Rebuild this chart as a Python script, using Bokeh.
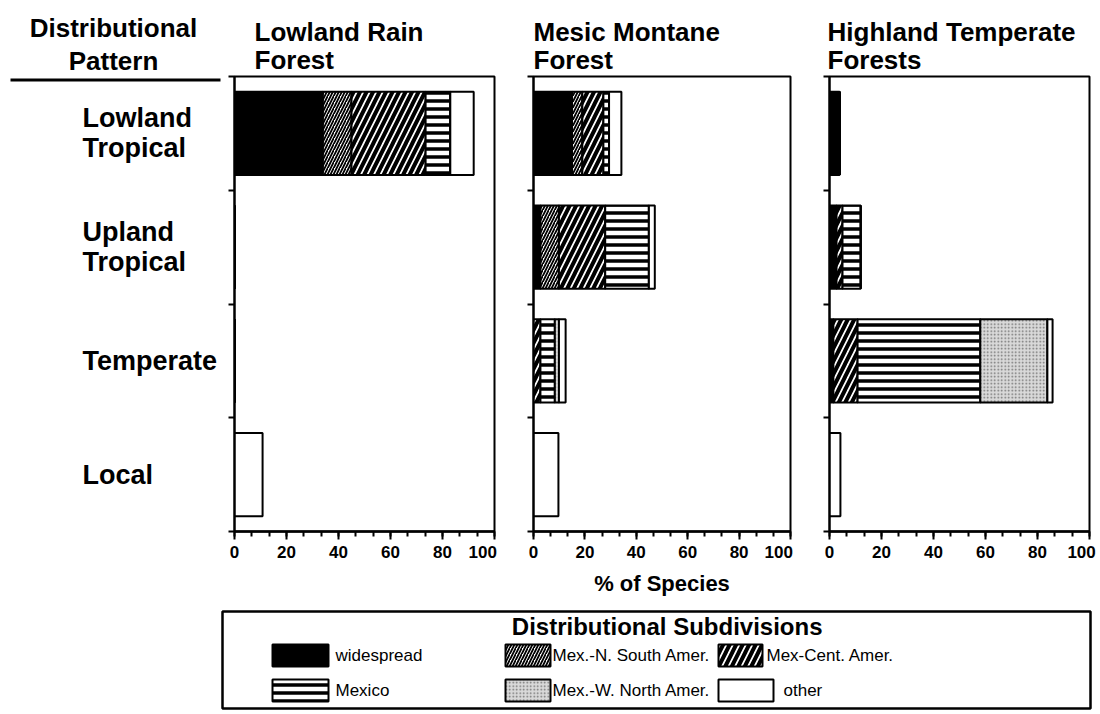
from bokeh.plotting import figure
from bokeh.layouts import row, column
from bokeh.models import Range1d, FixedTicker, ColumnDataSource, Title
from bokeh.core.properties import value
from bokeh.embed import file_html
from bokeh.resources import INLINE

# ---------------- data ----------------
categories = ["Lowland Tropical", "Upland Tropical", "Temperate", "Local"]
category_labels = ["Lowland\nTropical", "Upland\nTropical", "Temperate", "Local"]
subdivisions = ["widespread", "Mex.-N. South Amer.", "Mex-Cent. Amer.",
                "Mexico", "Mex.-W. North Amer.", "other"]
panel_titles = ["Lowland  Rain\nForest", "Mesic  Montane\nForest",
                "Highland  Temperate\nForests"]
header_lines = ["Distributional", "Pattern"]
x_tick_values = [0, 20, 40, 60, 80, 100]

# % of species (rows follow `categories`)
lrf_widespread = [34.0, 0.0, 0.0, 0.0]
lrf_mex_nsa = [11.0, 0.0, 0.0, 0.0]
lrf_mex_ca = [28.5, 0.0, 0.0, 0.0]
lrf_mexico = [9.5, 0.0, 0.0, 0.0]
lrf_mex_wna = [0.0, 0.0, 0.0, 0.0]
lrf_other = [9.0, 0.0, 0.0, 10.8]

mmf_widespread = [15.0, 2.7, 0.0, 0.0]
mmf_mex_nsa = [4.0, 7.2, 0.0, 0.0]
mmf_mex_ca = [8.2, 18.0, 2.7, 0.0]
mmf_mexico = [2.2, 17.0, 5.6, 0.0]
mmf_mex_wna = [0.0, 0.0, 1.6, 0.0]
mmf_other = [4.8, 2.3, 2.6, 9.7]

htf_widespread = [3.9, 2.7, 1.5, 0.0]
htf_mex_nsa = [0.0, 0.0, 0.0, 0.0]
htf_mex_ca = [0.0, 2.3, 9.3, 0.0]
htf_mexico = [0.0, 7.0, 47.2, 0.0]
htf_mex_wna = [0.0, 0.0, 25.8, 0.0]
htf_other = [0.0, 0.0, 2.0, 4.2]

panels_data = [
    [lrf_widespread, lrf_mex_nsa, lrf_mex_ca, lrf_mexico, lrf_mex_wna, lrf_other],
    [mmf_widespread, mmf_mex_nsa, mmf_mex_ca, mmf_mexico, mmf_mex_wna, mmf_other],
    [htf_widespread, htf_mex_nsa, htf_mex_ca, htf_mexico, htf_mex_wna, htf_other],
]

# ---------------- styles ----------------
FONT = "Liberation Sans"
keys = ["s%d" % i for i in range(len(subdivisions))]
sub_fill = ["black", "white", "white", "white", "#d9d9d9", "white"]
sub_hatch = [" ", "/", "/", "-", ".", " "]
sub_hatch_scale = [12, 6, 13, 8, 3.5, 12]
sub_hatch_weight = [1, 1.8, 4, 3.5, 1, 1]
sub_hatch_color = ["black", "black", "black", "black", "#707070", "black"]

n_cat = len(categories)
y_centers = [n_cat - 0.5 - i for i in range(n_cat)]
x_minor = [k * 20 / 3 for k in range(16)]

FIG_H = 600
TOP = 76
BOTTOM = 69
NBSP = "\u00a0"

panel_geom = [  # (border_left, frame_width, border_right, title_offset, nbsp)
    (8, 260, 31, 20, 5),
    (8, 257, 31, 0, 5),
    (8, 260, 11, -2, 1),
]


def style_title(t):
    t.text_font = FONT
    t.text_font_size = "26px"
    t.text_font_style = "bold"
    t.text_color = "black"
    t.text_line_height = 0.95


def make_panel(idx):
    bl, fw, br, toff, npad = panel_geom[idx]
    p = figure(width=bl + fw + br, height=FIG_H,
               x_range=Range1d(0, 100), y_range=Range1d(0, n_cat),
               min_border_left=bl, min_border_right=br,
               min_border_top=TOP, min_border_bottom=BOTTOM,
               output_backend="svg", toolbar_location=None,
               title=panel_titles[idx])
    style_title(p.title)
    p.title.offset = toff
    p.title.standoff = 3
    p.xgrid.visible = False
    p.ygrid.visible = False
    p.outline_line_color = "black"
    p.outline_line_width = 2
    p.background_fill_color = "white"
    p.border_fill_color = "white"

    data = {"y": y_centers}
    for k, vals in zip(keys, panels_data[idx]):
        data[k] = vals
    src = ColumnDataSource(data)
    p.hbar_stack(keys, y="y", height=0.73, source=src,
                 fill_color=sub_fill, hatch_pattern=sub_hatch,
                 hatch_scale=sub_hatch_scale, hatch_weight=sub_hatch_weight,
                 hatch_color=sub_hatch_color,
                 line_color="black", line_width=2)

    ax = p.xaxis[0]
    ax.ticker = FixedTicker(ticks=x_tick_values, minor_ticks=x_minor)
    ax.major_label_overrides = {100: "100" + NBSP * npad}
    ax.major_tick_out = 8
    ax.major_tick_in = 0
    ax.minor_tick_out = 5
    ax.minor_tick_in = 0
    ax.axis_line_width = 2.5
    ax.major_tick_line_width = 2
    ax.minor_tick_line_width = 2
    ax.major_label_text_font = FONT
    ax.major_label_text_font_size = "17px"
    ax.major_label_text_font_style = "bold"
    ax.major_label_text_color = "black"
    ax.major_label_standoff = 3
    if idx == 1:
        ax.axis_label = "% of Species"
        ax.axis_label_text_font = FONT
        ax.axis_label_text_font_size = "22px"
        ax.axis_label_text_font_style = "bold"
        ax.axis_label_text_color = "black"
        ax.axis_label_standoff = 6

    ay = p.yaxis[0]
    ay.ticker = FixedTicker(ticks=list(range(n_cat + 1)))
    ay.major_label_overrides = {i: "" for i in range(n_cat + 1)}
    ay.major_label_standoff = 0
    ay.major_tick_out = 6
    ay.major_tick_in = 0
    ay.axis_line_width = 2
    ay.major_tick_line_width = 2
    return p


panels = [make_panel(i) for i in range(3)]

# ---------------- left label column ----------------
lf = figure(width=226, height=FIG_H, x_range=Range1d(0, 226),
            y_range=Range1d(0, n_cat), min_border_left=0, min_border_right=0,
            min_border_top=TOP, min_border_bottom=BOTTOM,
            x_axis_type=None, y_axis_type=None, outline_line_color=None,
            output_backend="svg", toolbar_location=None, title=None)
# stacked header lines (first added sits closest to the frame)
for line_text, so in [(header_lines[1], 2), (header_lines[0], 0)]:
    t = Title(text=line_text, align="center", standoff=so)
    style_title(t)
    lf.add_layout(t, "above")
lf.xgrid.visible = False
lf.ygrid.visible = False
lf.text(x=[82] * n_cat, y=y_centers, text=category_labels,
        text_font=value(FONT), text_font_size="27px", text_font_style="bold",
        text_color="black", text_align="left", text_baseline="middle",
        text_line_height=1.0)
lf.segment(x0=[10], x1=[220], y0=[n_cat - 0.03], y1=[n_cat - 0.03],
           line_color="black", line_width=3)

# ---------------- legend box ----------------
lg = figure(width=1100, height=114, x_range=Range1d(222, 1090),
            y_range=Range1d(708, 611), min_border_left=222, min_border_right=10,
            min_border_top=11, min_border_bottom=6,
            x_axis_type=None, y_axis_type=None,
            outline_line_color="black", outline_line_width=2.5,
            output_backend="svg", toolbar_location=None)
lg.xgrid.visible = False
lg.ygrid.visible = False
order = [0, 1, 2, 3, 4, 5]
sw_left = [272, 505, 718, 272, 505, 718]
sw_right = [328, 550, 762, 328, 550, 773]
sw_y = [655, 655, 655, 690, 690, 690]
txt_x = [335, 552, 766, 335, 552, 783]
lsrc = ColumnDataSource(dict(
    left=sw_left, right=sw_right,
    top=[y - 11 for y in sw_y], bottom=[y + 11 for y in sw_y],
    fill=[sub_fill[i] for i in order], hatch=[sub_hatch[i] for i in order],
    hs=[sub_hatch_scale[i] for i in order], hw=[sub_hatch_weight[i] for i in order],
    hc=[sub_hatch_color[i] for i in order],
    tx=txt_x, ty=sw_y, label=[subdivisions[i] for i in order]))
lg.quad(left="left", right="right", top="top", bottom="bottom", source=lsrc,
        fill_color="fill", hatch_pattern="hatch", hatch_scale="hs",
        hatch_weight="hw", hatch_color="hc", line_color="black", line_width=2)
lg.text(x="tx", y="ty", text="label", source=lsrc, text_font=value(FONT),
        text_font_size="17px", text_color="black", text_align="left",
        text_baseline="middle")
lg.text(x=[670], y=[626], text=["Distributional  Subdivisions"],
        text_font=value(FONT), text_font_size="24px", text_font_style="bold",
        text_color="black", text_align="center", text_baseline="middle")

layout = column(row(lf, *panels), lg)
open("out.html", "w").write(file_html(layout, INLINE))
